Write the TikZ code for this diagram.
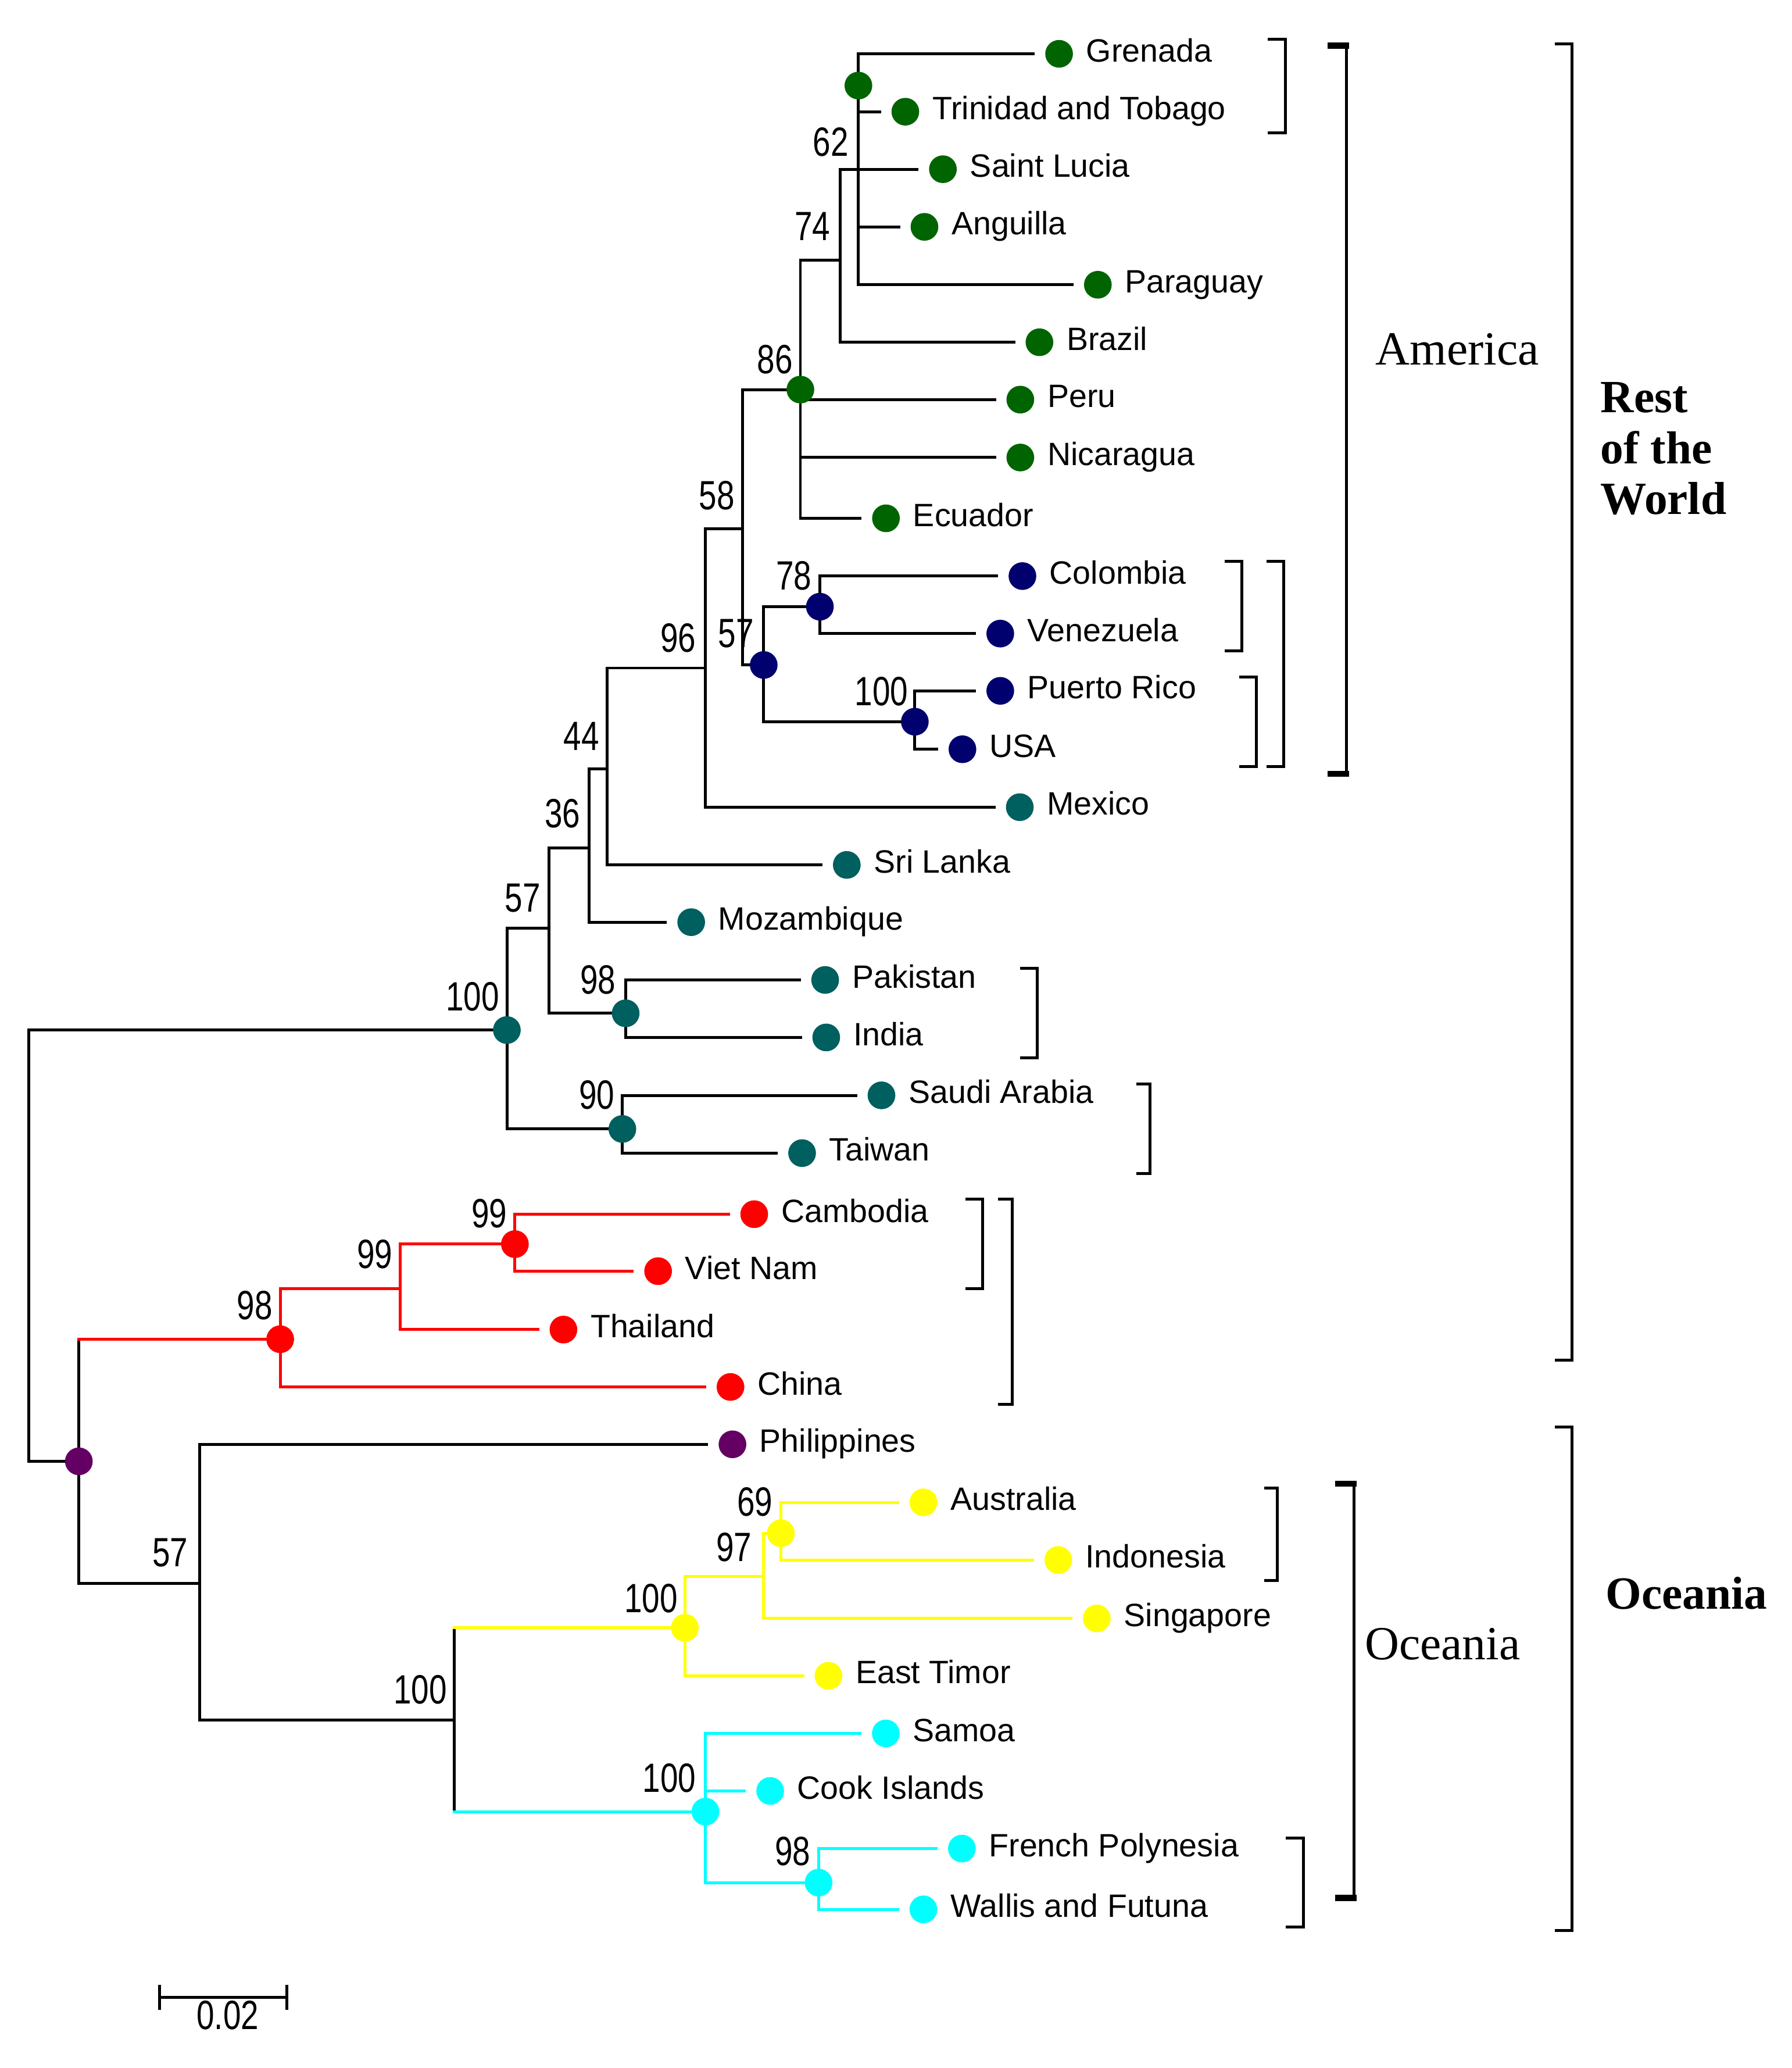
\documentclass[tikz,border=0pt]{standalone}
\usepackage{fontspec}
\setmainfont{Liberation Serif}
\newfontfamily\taxfont{Liberation Sans}
\newfontfamily\bootfont[FakeStretch=0.78]{Liberation Sans}
\usepackage{tikz}

\definecolor{amer}{RGB}{0,100,0}
\definecolor{navyc}{RGB}{0,0,110}
\definecolor{tealc}{RGB}{0,95,95}
\definecolor{plum}{RGB}{100,0,100}
\definecolor{redc}{RGB}{255,0,0}
\definecolor{yel}{RGB}{255,255,0}
\definecolor{cyn}{RGB}{0,255,255}

\newcommand{\clade}[4]{\draw (#1-#4,#2) -- (#1,#2) -- (#1,#3) -- (#1-#4,#3);}

\begin{document}
\begin{tikzpicture}[
	x=1pt, y=-1pt, line width=2.2pt, line cap=rect,
	spot/.style={circle, draw=none, fill=#1, inner sep=0pt, minimum size=21pt, outer sep=0pt},
	leaf/.style={outer sep=9pt},
	every label/.style={font=\taxfont\fontsize{24.5}{24.5}\selectfont, inner sep=0pt,
		text height=17.5pt, text depth=5.5pt},
	label distance=0pt,
	boot/.style={font=\bootfont\fontsize{31}{31}\selectfont, inner sep=0pt},
	grp/.style={font=\fontsize{36}{36}\selectfont, inner sep=0pt, anchor=base west},
	grpb/.style={font=\bfseries\fontsize{35}{38.6}\selectfont, inner sep=0pt},
	redbr/.style={draw=redc},
	yelbr/.style={draw=yel},
	cynbr/.style={draw=cyn}
	]
	\useasboundingbox (0,0) rectangle (1359,1568);

	\coordinate (root) at (21.8,1108);
	\coordinate (b100t) at (384.4,781);
	\coordinate (b57a) at (416.5,703.9);
	\coordinate (b36) at (446.8,643);
	\coordinate (b44) at (460.3,583);
	\coordinate (b96) at (534.9,506.5);
	\coordinate (b58) at (563,400.9);
	\coordinate (b86) at (607,295.4);
	\coordinate (b74) at (637.2,197.3);
	\coordinate (b62) at (651,128.3);
	\coordinate (bgt) at (651,64.9);
	\coordinate (b57b) at (579.2,504.2);
	\coordinate (b78) at (621.8,460);
	\coordinate (b100p) at (693.8,547.2);
	\coordinate (b98t) at (474.5,768.3);
	\coordinate (b90) at (472,856);
	\coordinate (bpur) at (59.8,1108);
	\coordinate (b98r) at (212.5,1015.4);
	\coordinate (b99a) at (303.5,977);
	\coordinate (b99b) at (390.5,943.3);
	\coordinate (b57c) at (151.5,1200.7);
	\coordinate (b100c) at (344.7,1304);
	\coordinate (b100y) at (519.4,1234.2);
	\coordinate (b97) at (579.2,1195.1);
	\coordinate (b69) at (592.2,1162.5);
	\coordinate (b100cy) at (535,1373.6);
	\coordinate (b98c) at (620.8,1427.4);

	\node[spot=amer, leaf, label=right:Grenada] (grenada) at (803.2,40.8) {};
	\node[spot=amer, leaf, label=right:Trinidad and Tobago] (trinidad) at (686.6,84.7) {};
	\node[spot=amer, leaf, label=right:Saint Lucia] (stlucia) at (715.1,128.3) {};
	\node[spot=amer, leaf, label=right:Anguilla] (anguilla) at (701.1,172) {};
	\node[spot=amer, leaf, label=right:Paraguay] (paraguay) at (832.6,215.9) {};
	\node[spot=amer, leaf, label=right:Brazil] (brazil) at (788.3,259.5) {};
	\node[spot=amer, leaf, label=right:Peru] (peru) at (773.8,303) {};
	\node[spot=amer, leaf, label=right:Nicaragua] (nicaragua) at (773.8,346.9) {};
	\node[spot=amer, leaf, label=right:Ecuador] (ecuador) at (671.9,393) {};
	\node[spot=navyc, leaf, label=right:Colombia] (colombia) at (775.4,436.8) {};
	\node[spot=navyc, leaf, label=right:Venezuela] (venezuela) at (758.6,480.4) {};
	\node[spot=navyc, leaf, label=right:Puerto Rico] (puertorico) at (758.6,523.8) {};
	\node[spot=navyc, leaf, label=right:USA] (usa) at (729.9,568.1) {};
	\node[spot=tealc, leaf, label=right:Mexico] (mexico) at (773.4,612) {};
	\node[spot=tealc, leaf, label=right:Sri Lanka] (srilanka) at (642.2,655.8) {};
	\node[spot=tealc, leaf, label=right:Mozambique] (mozambique) at (524.2,699.2) {};
	\node[spot=tealc, leaf, label=right:Pakistan] (pakistan) at (625.8,743) {};
	\node[spot=tealc, leaf, label=right:India] (india) at (626.6,786.6) {};
	\node[spot=tealc, leaf, label=right:Saudi Arabia] (saudi) at (668.5,830.5) {};
	\node[spot=tealc, leaf, label=right:Taiwan] (taiwan) at (608.3,874.3) {};
	\node[spot=redc, leaf, label=right:Cambodia] (cambodia) at (572,920.6) {};
	\node[spot=redc, leaf, label=right:Viet Nam] (vietnam) at (499.1,963.8) {};
	\node[spot=redc, leaf, label=right:Thailand] (thailand) at (427.3,1008.1) {};
	\node[spot=redc, leaf, label=right:China] (china) at (554,1051.6) {};
	\node[spot=plum, leaf, label=right:Philippines] (philippines) at (555.5,1095.1) {};
	\node[spot=yel, leaf, label=right:Australia] (australia) at (700.3,1139.1) {};
	\node[spot=yel, leaf, label=right:Indonesia] (indonesia) at (802.6,1182.8) {};
	\node[spot=yel, leaf, label=right:Singapore] (singapore) at (831.8,1227.1) {};
	\node[spot=yel, leaf, label=right:East Timor] (easttimor) at (628.3,1270.6) {};
	\node[spot=cyn, leaf, label=right:Samoa] (samoa) at (671.8,1314.3) {};
	\node[spot=cyn, leaf, label=right:Cook Islands] (cook) at (584.1,1357.9) {};
	\node[spot=cyn, leaf, label=right:French Polynesia] (frenchpoly) at (729.5,1401.6) {};
	\node[spot=cyn, leaf, label=right:Wallis and Futuna] (wallis) at (700.3,1447.7) {};

	\draw (root) |- (b100t);
	\draw (root) -- (bpur);
	\draw (b100t) |- (b57a);
	\draw (b100t) |- (b90);
	\draw (b57a) |- (b36);
	\draw (b57a) |- (b98t);
	\draw (b36) |- (b44);
	\draw (b36) |- (mozambique);
	\draw (b44) |- (b96);
	\draw (b44) |- (srilanka);
	\draw (b96) |- (b58);
	\draw (b96) |- (mexico);
	\draw (b58) |- (b86);
	\draw (b58) |- (b57b);
	\draw (b86) |- (b74);
	\draw (b86) |- (peru);
	\draw (b86) |- (nicaragua);
	\draw (b86) |- (ecuador);
	\draw (b74) |- (stlucia);
	\draw (b74) |- (brazil);
	\draw (b62) |- (grenada);
	\draw (b62) |- (trinidad);
	\draw (b62) |- (anguilla);
	\draw (b62) |- (paraguay);
	\draw (b57b) |- (b78);
	\draw (b57b) |- (b100p);
	\draw (b78) |- (colombia);
	\draw (b78) |- (venezuela);
	\draw (b100p) |- (puertorico);
	\draw (b100p) |- (usa);
	\draw (b98t) |- (pakistan);
	\draw (b98t) |- (india);
	\draw (b90) |- (saudi);
	\draw (b90) |- (taiwan);
	\draw (bpur) -- (bpur |- b98r);
	\draw (bpur) |- (b57c);
	\draw[redbr] (bpur |- b98r) -- (b98r);
	\draw[redbr] (b98r) |- (b99a);
	\draw[redbr] (b98r) |- (china);
	\draw[redbr] (b99a) |- (b99b);
	\draw[redbr] (b99a) |- (thailand);
	\draw[redbr] (b99b) |- (cambodia);
	\draw[redbr] (b99b) |- (vietnam);
	\draw (b57c) |- (philippines);
	\draw (b57c) |- (b100c);
	\draw (b100c |- b100y) -- (b100c |- b100cy);
	\draw[yelbr] (b100c |- b100y) -- (b100y);
	\draw[yelbr] (b100y) |- (b97);
	\draw[yelbr] (b100y) |- (easttimor);
	\draw[yelbr] (b97) |- (b69);
	\draw[yelbr] (b97) |- (singapore);
	\draw[yelbr] (b69) |- (australia);
	\draw[yelbr] (b69) |- (indonesia);
	\draw[cynbr] (b100c |- b100cy) -- (b100cy);
	\draw[cynbr] (b100cy) |- (samoa);
	\draw[cynbr] (b100cy) |- (cook);
	\draw[cynbr] (b100cy) |- (b98c);
	\draw[cynbr] (b98c) |- (frenchpoly);
	\draw[cynbr] (b98c) |- (wallis);

	\node[spot=amer] (dgt) at (bgt) {};
	\node[spot=amer] (d86) at (b86) {};
	\node[spot=navyc] (d57b) at (b57b) {};
	\node[spot=navyc] (d78) at (b78) {};
	\node[spot=navyc] (d100p) at (b100p) {};
	\node[spot=tealc] (d100t) at (b100t) {};
	\node[spot=tealc] (d98t) at (b98t) {};
	\node[spot=tealc] (d90) at (b90) {};
	\node[spot=redc] (d99b) at (b99b) {};
	\node[spot=redc] (d98r) at (b98r) {};
	\node[spot=plum] (dpur) at (bpur) {};
	\node[spot=yel] (d69) at (b69) {};
	\node[spot=yel] (d100y) at (b100y) {};
	\node[spot=cyn] (d100cy) at (b100cy) {};
	\node[spot=cyn] (d98c) at (b98c) {};

	\node[boot] (l62) at (630.1,107.8) {62};
	\node[boot] (l74) at (616.1,171.5) {74};
	\node[boot] (l86) at (587.7,272.5) {86};
	\node[boot] (l58) at (543.7,375.7) {58};
	\node[boot] (l78) at (602.1,436.4) {78};
	\node[boot] (l96) at (514.4,483.6) {96};
	\node[boot] (l57b) at (558.2,480.2) {57};
	\node[boot] (l100p) at (668.5,524.1) {100};
	\node[boot] (l44) at (441,558) {44};
	\node[boot] (l36) at (426.7,616.7) {36};
	\node[boot] (l57a) at (396.4,680.8) {57};
	\node[boot] (l100t) at (358.3,755.7) {100};
	\node[boot] (l98t) at (453.6,743) {98};
	\node[boot] (l90) at (452.6,830.3) {90};
	\node[boot] (l99b) at (371,920.1) {99};
	\node[boot] (l99a) at (284.3,950.9) {99};
	\node[boot] (l98r) at (193.2,989.6) {98};
	\node[boot] (l57c) at (129.1,1177.2) {57};
	\node[boot] (l69) at (572.5,1138.9) {69};
	\node[boot] (l97) at (556.7,1173) {97};
	\node[boot] (l100y) at (493.8,1212) {100};
	\node[boot] (l100c) at (318.7,1281.3) {100};
	\node[boot] (l100cy) at (507.6,1348) {100};
	\node[boot] (l98c) at (601.2,1403.9) {98};

	\clade{974.7}{29.9}{100.7}{12}
	\clade{1021.1}{33.5}{588}{12}
	\clade{941.7}{425.8}{493.7}{12}
	\clade{952.8}{513.5}{581.4}{12}
	\clade{973.7}{425.8}{581.4}{12}
	\clade{786.6}{734.3}{802.2}{12}
	\clade{872}{822}{889.9}{9}
	\clade{745.2}{909}{977.1}{12}
	\clade{767.6}{909}{1064.6}{9.5}
	\clade{1192.3}{33.2}{1031.2}{12}
	\clade{968.8}{1128.4}{1198.5}{9}
	\clade{1026.7}{1123.8}{1440.3}{12}
	\clade{988.5}{1393.7}{1460.9}{12.5}
	\clade{1192.3}{1082}{1463.7}{12}
	\draw[line width=4.5pt] (1009.1,34.6) -- (1021.1,34.6);
	\draw[line width=4.5pt] (1009.1,586.9) -- (1021.1,586.9);
	\draw[line width=4.5pt] (1014.7,1125) -- (1026.7,1125);
	\draw[line width=4.5pt] (1014.7,1439) -- (1026.7,1439);

	\node[grp] (lam) at (1042.3,276.8) {America};
	\node[grpb, anchor=north west, align=left] (lrw) at (1212.9,288.8) {Rest\\of the\\World};
	\node[grpb, anchor=base west] (loc) at (1216.7,1220) {Oceania};
	\node[grp] (loc2) at (1034,1258.5) {Oceania};

	\coordinate (s0) at (121.2,1514.5);
	\coordinate (s1) at (217.6,1514.5);
	\draw (s0) -- (s1);
	\draw ([yshift=8.4pt]s0) -- ([yshift=-8.4pt]s0);
	\draw ([yshift=8.4pt]s1) -- ([yshift=-8.4pt]s1);
	\node[boot, anchor=base] (lsb) at (172.7,1538.8) {0.02};
\end{tikzpicture}
\end{document}
